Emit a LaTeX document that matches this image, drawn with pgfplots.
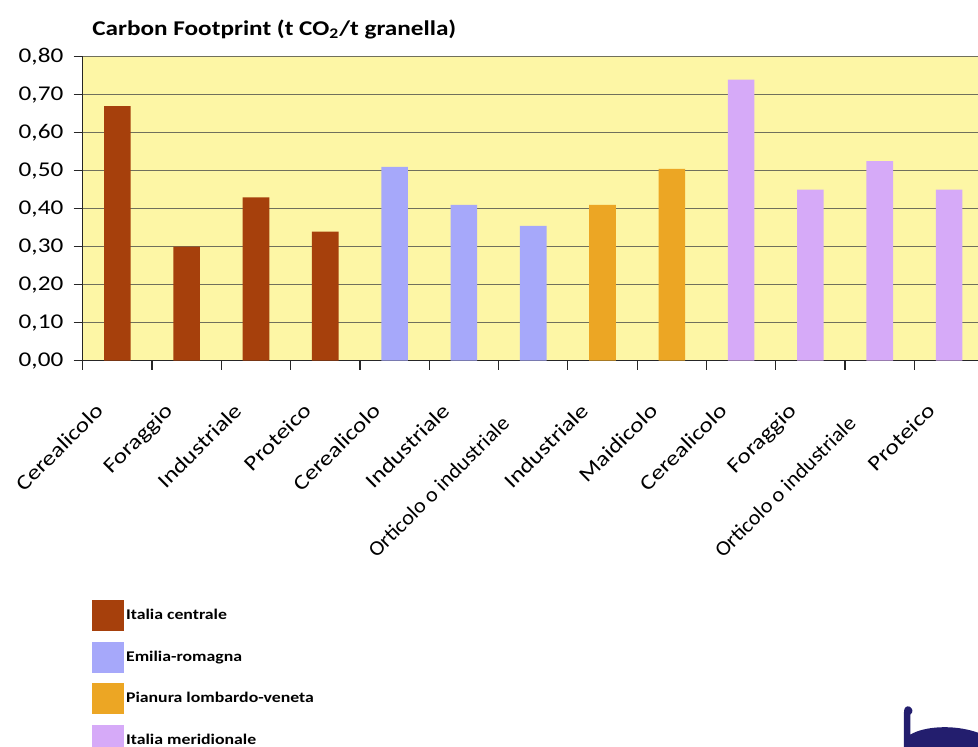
\documentclass[border=0pt]{standalone}
\usepackage{fontspec}
\setmainfont[FakeStretch=1.2]{Carlito}
\usepackage{pgfplots}
\pgfplotsset{compat=1.18}
\definecolor{cBrown}{RGB}{166,64,12}
\definecolor{cBlue}{RGB}{166,168,250}
\definecolor{cOrange}{RGB}{236,166,36}
\definecolor{cPurple}{RGB}{214,170,248}
\definecolor{cBack}{RGB}{253,246,165}
\definecolor{cGrid}{RGB}{112,112,92}
\definecolor{cNavy}{RGB}{35,30,110}
\newcommand{\ortic}{\raisebox{-1.1pt}{\scalebox{0.88}[1]{Orticolo o industriale}}\rule{7.8pt}{0pt}}
\begin{document}
\begin{tikzpicture}[x=1pt,y=1pt]
\begin{scope}
\clip (-41.35pt,-193.15pt) rectangle (447.65pt,180.35pt);
\begin{axis}[
  scale only axis, width=450.5pt, height=152pt,
  xmin=-0.5, xmax=12.5, ymin=0, ymax=0.8,
  clip=false,
  axis x line*=bottom, axis y line*=left,
  axis line style={line width=0.8pt, black!85},
  axis background/.style={fill=cBack},
  tick align=outside, major tick length=4.5pt,
  tick style={black!85, line width=0.6pt},
  ytick={0,0.1,0.2,0.3,0.4,0.5,0.6,0.7,0.8},
  ymajorgrids, grid style={cGrid, line width=0.75pt},
  /pgf/number format/.cd, use comma, fixed, fixed zerofill, precision=2, assume math mode=true, /pgfplots/.cd,
  yticklabel style={font=\fontsize{10.5}{12}\selectfont, inner sep=0pt, xshift=-5pt},
  xtick={-0.5,0.5,1.5,2.5,3.5,4.5,5.5,6.5,7.5,8.5,9.5,10.5,11.5,12.5},
  xticklabels={},
  extra x ticks={0,1,2,3,4,5,6,7,8,9,10,11,12},
  extra x tick labels={Cerealicolo,Foraggio,Industriale,Proteico,Cerealicolo,Industriale,{\ortic},Industriale,Maidicolo,Cerealicolo,Foraggio,{\ortic},Proteico},
  extra x tick style={major tick length=0pt, grid=none},
  xticklabel style={font=\fontsize{10.5}{12}\selectfont, anchor=north east, inner sep=0pt, text height=7pt, xshift=-11.5pt, yshift=-20.5pt, rotate=45},
  ybar, bar width=13.3pt,
  legend image code/.code={\fill[#1] (0pt,-7.75pt) rectangle (16pt,7.75pt);},
  legend style={at={(0.01,-0.787)}, anchor=north west, draw=none, fill=none, inner sep=0pt,
    row sep=5.25pt, nodes={inner sep=0pt, anchor=west, font=\bfseries\fontsize{7.4}{9}\selectfont},
    /tikz/column 2/.style={column sep=0pt}},
  legend cell align=left,
]
\addplot[ybar, bar shift=0pt, fill=cBrown, draw=none] coordinates {(0,0.67) (1,0.30) (2,0.43) (3,0.34)};
\addlegendentry{\hspace{1pt}Italia centrale}
\addplot[ybar, bar shift=0pt, fill=cBlue, draw=none] coordinates {(4,0.51) (5,0.41) (6,0.355)};
\addlegendentry{\hspace{1pt}Emilia-romagna}
\addplot[ybar, bar shift=0pt, fill=cOrange, draw=none] coordinates {(7,0.41) (8,0.505)};
\addlegendentry{\hspace{1pt}Pianura lombardo-veneta}
\addplot[ybar, bar shift=0pt, fill=cPurple, draw=none] coordinates {(9,0.74) (10,0.45) (11,0.525) (12,0.45)};
\addlegendentry{\hspace{1pt}Italia meridionale}
\node[anchor=base west, inner sep=0pt, font=\bfseries\fontsize{10.5}{12}\selectfont] at (rel axis cs:0.0103,1.0714) {Carbon Footprint (t CO\textsubscript{2}/t granella)};
\end{axis}
\fill[cNavy] (410.6pt,-193.2pt) -- (410.6pt,-176pt) .. controls (410.6pt,-173pt) and (412pt,-172.5pt) .. (413.5pt,-173pt) .. controls (415pt,-174pt) and (415.5pt,-175.5pt) .. (413.8pt,-177pt) -- (413.8pt,-187pt) .. controls (420pt,-183pt) and (435pt,-181.5pt) .. (447.7pt,-186pt) -- (447.7pt,-193.2pt) -- cycle;
\end{scope}
\pgfresetboundingbox
\path[use as bounding box] (-41.35pt,-193.15pt) rectangle (447.65pt,180.35pt);
\end{tikzpicture}
\end{document}
